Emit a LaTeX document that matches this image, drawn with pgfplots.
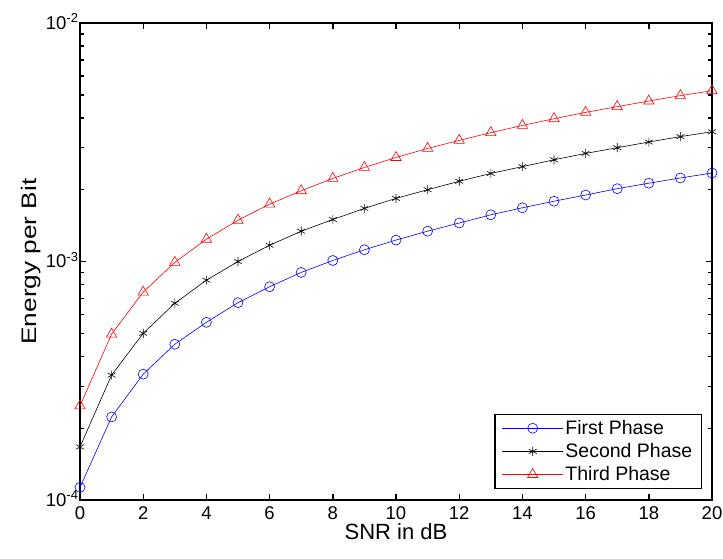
\documentclass[border=0pt]{standalone}
\usepackage{fontspec}
\setmainfont{Liberation Sans}
\usepackage{graphicx}
\usepackage{pgfplots}
\pgfplotsset{compat=1.18}

\begin{document}
\begin{tikzpicture}
\begin{axis}[
    ymode=log,
    scale only axis,
    width=632pt, height=477pt,
    xmin=0, xmax=20, ymin=1e-4, ymax=1e-2,
    xtick={0,2,...,20},
    ytick={1e-4,1e-3,1e-2},
    yticklabels={10\textsuperscript{-4},10\textsuperscript{-3},10\textsuperscript{-2}},
    tick label style={font=\fontsize{18.5}{21}\selectfont},
    label style={font=\fontsize{22}{25}\selectfont},
    /pgf/number format/assume math mode=true,
    axis line style={line width=1.6pt},
    every tick/.style={black, line width=1.4pt},
    major tick length=6pt, minor tick length=4pt,
    xlabel={SNR in dB},
    ylabel={\scalebox{1.25}[1]{\fontsize{21}{24}\selectfont Energy per Bit}},
    xticklabel style={yshift=-3pt},
    xlabel style={yshift=3pt},
    ylabel style={yshift=-2pt},
    yticklabel style={xshift=2pt, yshift=1.5pt},
    legend cell align=left,
    legend style={at={(1,0)}, anchor=south east, xshift=-10pt, yshift=11pt,
      draw=black, line width=1.4pt, inner xsep=7pt, inner ysep=4pt,
      font=\fontsize{19.5}{22}\selectfont,
      row sep=3.5pt},
    legend image code/.code={\draw[mark repeat=2, mark phase=2, line width=0.6pt]
      plot coordinates {(0cm,0cm) (1.07cm,0cm) (2.14cm,0cm)};},
]
\addplot[blue, line width=0.6pt, mark=o, mark size=5pt] coordinates {
 (0,1.13e-4) (1,2.23e-4) (2,3.37e-4) (3,4.5e-4) (4,5.56e-4) (5,6.72e-4)
 (6,7.84e-4) (7,9.0e-4) (8,1.01e-3) (9,1.12e-3) (10,1.23e-3) (11,1.34e-3)
 (12,1.45e-3) (13,1.57e-3) (14,1.68e-3) (15,1.79e-3) (16,1.90e-3)
 (17,2.02e-3) (18,2.13e-3) (19,2.24e-3) (20,2.35e-3)};
\addlegendentry{First Phase}
\addplot[black, line width=0.6pt, mark=asterisk, mark size=4.5pt] coordinates {
 (0,1.67e-4) (1,3.34e-4) (2,5.0e-4) (3,6.68e-4) (4,8.35e-4) (5,1.0e-3)
 (6,1.17e-3) (7,1.34e-3) (8,1.50e-3) (9,1.67e-3) (10,1.84e-3) (11,2.0e-3)
 (12,2.17e-3) (13,2.34e-3) (14,2.5e-3) (15,2.67e-3) (16,2.84e-3)
 (17,3.0e-3) (18,3.17e-3) (19,3.34e-3) (20,3.5e-3)};
\addlegendentry{Second Phase}
\addplot[red, line width=0.6pt, mark=triangle, mark size=6pt] coordinates {
 (0,2.48e-4) (1,4.96e-4) (2,7.44e-4) (3,9.92e-4) (4,1.24e-3) (5,1.49e-3)
 (6,1.74e-3) (7,1.98e-3) (8,2.23e-3) (9,2.48e-3) (10,2.73e-3) (11,2.98e-3)
 (12,3.22e-3) (13,3.47e-3) (14,3.72e-3) (15,3.97e-3) (16,4.22e-3)
 (17,4.46e-3) (18,4.71e-3) (19,4.96e-3) (20,5.2e-3)};
\addlegendentry{Third Phase}
\end{axis}
\pgfresetboundingbox
\useasboundingbox (-80pt,-58pt) rectangle (643pt,500pt);
\end{tikzpicture}
\end{document}
